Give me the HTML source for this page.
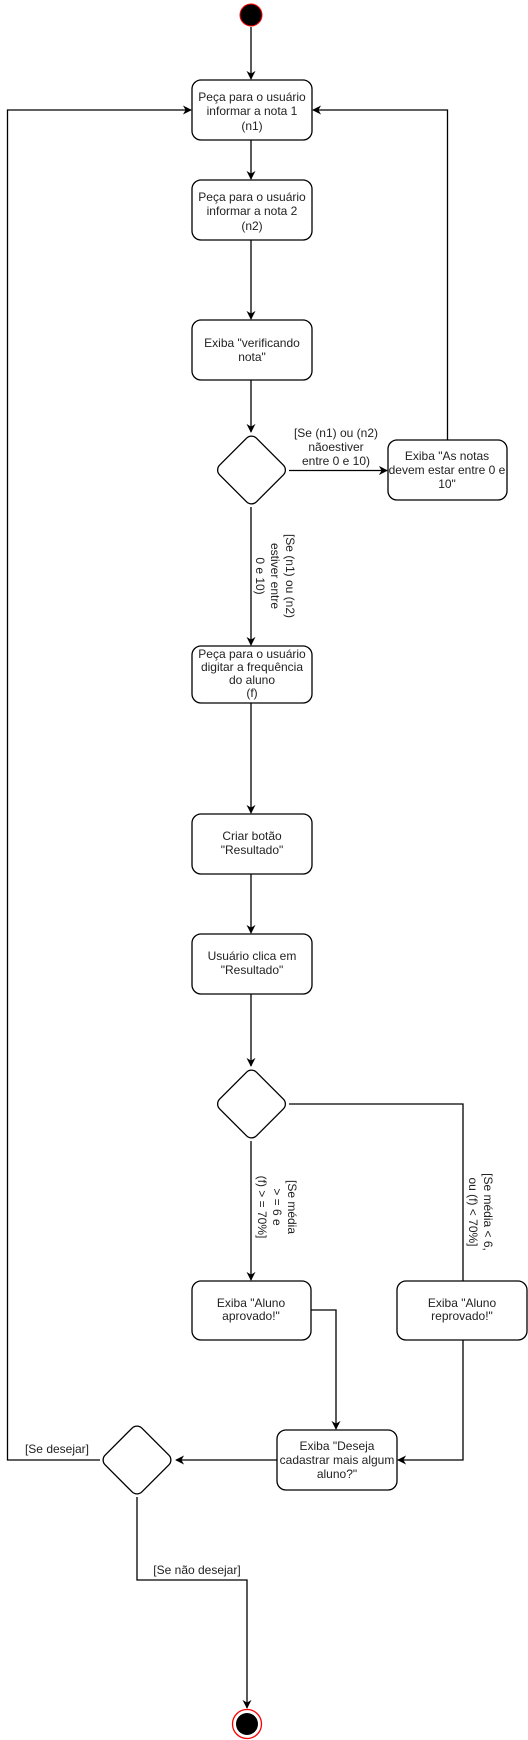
<!DOCTYPE html>
<html><head><meta charset="utf-8"><style>
html,body{margin:0;padding:0;background:#fff;}
svg{display:block;}
text{font-family:"Liberation Sans",Arial,sans-serif;font-size:12px;fill:#222;}
</style></head><body>
<svg width="528" height="1740" viewBox="0 0 528 1740" xmlns="http://www.w3.org/2000/svg">
<defs>
<marker id="a" viewBox="0 0 10 10" refX="9" refY="5" markerWidth="9" markerHeight="9" markerUnits="userSpaceOnUse" orient="auto">
<path d="M0,0 L10,5 L0,10 L3,5 z" fill="#000"/>
</marker>
</defs>
<g fill="none" stroke="#000" stroke-width="1.3">
<path d="M251,27 V79" marker-end="url(#a)"/>
<path d="M251,140 V179" marker-end="url(#a)"/>
<path d="M251,240 V319" marker-end="url(#a)"/>
<path d="M251,380 V432" marker-end="url(#a)"/>
<path d="M289,470.5 H387" marker-end="url(#a)"/>
<path d="M447.5,440 V110 H313" marker-end="url(#a)"/>
<path d="M251,507 V645" marker-end="url(#a)"/>
<path d="M251,703 V813" marker-end="url(#a)"/>
<path d="M251,874 V933" marker-end="url(#a)"/>
<path d="M251,994 V1066" marker-end="url(#a)"/>
<path d="M251,1141 V1280" marker-end="url(#a)"/>
<path d="M289,1104 H463 V1281"/>
<path d="M311,1310 H336 V1429" marker-end="url(#a)"/>
<path d="M463,1340 V1460 H398" marker-end="url(#a)"/>
<path d="M277,1460 H176" marker-end="url(#a)"/>
<path d="M100,1460 H7.5 V110 H191" marker-end="url(#a)"/>
<path d="M137,1497 V1580 H247 V1708" marker-end="url(#a)"/>
</g>
<circle cx="251" cy="15" r="11" fill="#000" stroke="#f00" stroke-width="1"/>
<circle cx="247" cy="1724" r="14.5" fill="#fff" stroke="#f00" stroke-width="1.3"/>
<circle cx="247" cy="1724" r="11" fill="#000"/>
<g fill="#fff" stroke="#000" stroke-width="1.3">
<rect x="192" y="80" width="120" height="60" rx="9"/>
<rect x="192" y="180" width="120" height="60" rx="9"/>
<rect x="192" y="320" width="120" height="60" rx="9"/>
<rect x="388" y="440" width="119" height="60" rx="9"/>
<rect x="192" y="646" width="120" height="57" rx="9"/>
<rect x="192" y="814" width="120" height="60" rx="9"/>
<rect x="192" y="934" width="120" height="60" rx="9"/>
<rect x="192" y="1281" width="119" height="59" rx="9"/>
<rect x="397" y="1281" width="130" height="59" rx="9"/>
<rect x="277" y="1430" width="120" height="60" rx="9"/>
<rect x="225.5" y="444" width="52" height="52" rx="7" transform="rotate(45 251.5 470)"/>
<rect x="225.5" y="1078" width="52" height="52" rx="7" transform="rotate(45 251.5 1104)"/>
<rect x="111" y="1434" width="52" height="52" rx="7" transform="rotate(45 137 1460)"/>
</g>
<g text-anchor="middle">
<text x="252" y="101">Peça para o usuário</text>
<text x="252" y="115">informar a nota 1</text>
<text x="252" y="130">(n1)</text>
<text x="252" y="201">Peça para o usuário</text>
<text x="252" y="215">informar a nota 2</text>
<text x="252" y="230">(n2)</text>
<text x="252" y="347">Exiba "verificando</text>
<text x="252" y="361">nota"</text>
<text x="447" y="460">Exiba "As notas</text>
<text x="447" y="474">devem estar entre 0 e</text>
<text x="447" y="488">10"</text>
<text x="336" y="437">[Se (n1) ou (n2)</text>
<text x="336" y="451">nãoestiver</text>
<text x="336" y="465">entre 0 e 10)</text>
<g transform="rotate(90 275 576)">
<text x="275" y="565">[Se (n1) ou (n2)</text>
<text x="275" y="580">estiver entre</text>
<text x="275" y="595">0 e 10)</text>
</g>
<text x="252" y="658">Peça para o usuário</text>
<text x="252" y="671">digitar a frequência</text>
<text x="252" y="684">do aluno</text>
<text x="252" y="697">(f)</text>
<text x="252" y="840">Criar botão</text>
<text x="252" y="854">"Resultado"</text>
<text x="252" y="960">Usuário clica em</text>
<text x="252" y="974">"Resultado"</text>
<g transform="rotate(90 277 1207)">
<text x="277" y="1196">[Se média</text>
<text x="277" y="1211">&gt; = 6 e</text>
<text x="277" y="1226">(f) &gt; = 70%]</text>
</g>
<g transform="rotate(90 480 1212)">
<text x="480" y="1208">[Se média &lt; 6,</text>
<text x="480" y="1223">ou (f) &lt; 70%]</text>
</g>
<text x="251" y="1307">Exiba "Aluno</text>
<text x="251" y="1320">aprovado!"</text>
<text x="462" y="1307">Exiba "Aluno</text>
<text x="462" y="1320">reprovado!"</text>
<text x="337" y="1450">Exiba "Deseja</text>
<text x="337" y="1464">cadastrar mais algum</text>
<text x="337" y="1478">aluno?"</text>
<text x="57" y="1453">[Se desejar]</text>
<text x="197" y="1574">[Se não desejar]</text>
</g>
</svg>
</body></html>
